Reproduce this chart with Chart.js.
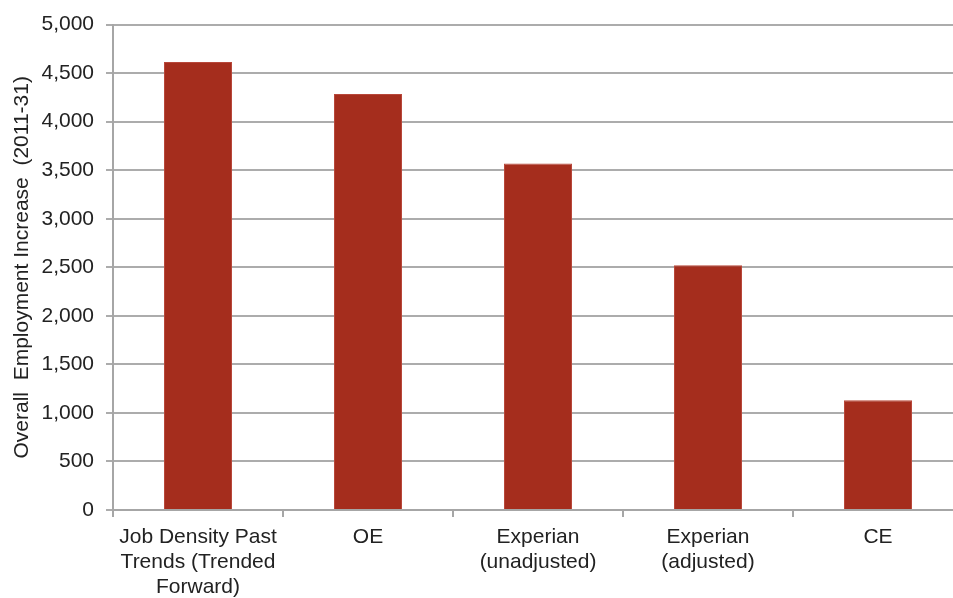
<!DOCTYPE html>
<html>
<head>
<meta charset="utf-8">
<script src="https://cdn.jsdelivr.net/npm/chart.js@4.4.1/dist/chart.umd.min.js"></script>
<style>
  body { margin: 0; overflow: hidden; background: #fff; }
  #wrap { width: 970px; height: 598px; }
</style>
</head>
<body>
<div id="wrap"><canvas id="grafica"></canvas></div>
<script>
const categorias = [
  ["Job Density Past", "Trends (Trended", "Forward)"],
  "OE",
  ["Experian", "(unadjusted)"],
  ["Experian", "(adjusted)"],
  "CE"
];
const empleo = [4615, 4285, 3568, 2522, 1130];
const tituloY = "Overall  Employment Increase  (2011-31)";

const familia = "Liberation Sans, Arial, sans-serif";

new Chart(document.getElementById("grafica"), {
  type: "bar",
  data: {
    labels: categorias,
    datasets: [{
      data: empleo,
      backgroundColor: "#a52d1d",
      borderColor: "#b8473a",
      borderWidth: 1,
      categoryPercentage: 1,
      barPercentage: 0.4
    }]
  },
  options: {
    responsive: true,
    maintainAspectRatio: false,
    animation: false,
    layout: { padding: { top: 22, right: 7, left: 0, bottom: 0 } },
    plugins: {
      legend: { display: false },
      tooltip: { enabled: false }
    },
    scales: {
      x: {
        grid: { drawOnChartArea: false, color: "#a6a6a6", lineWidth: 2, tickLength: 7 },
        border: { color: "#a6a6a6", width: 2 },
        ticks: { color: "#222", font: { family: familia, size: 21, lineHeight: 1.18 }, maxRotation: 0, autoSkip: false, padding: 8 },
        afterFit: function(scale) { scale.height = 88; }
      },
      y: {
        min: 0,
        max: 5000,
        ticks: {
          stepSize: 500,
          color: "#222",
          font: { family: familia, size: 21 },
          padding: 12,
          callback: function(v) { return v.toLocaleString("en-US"); }
        },
        grid: { color: "#acacac", lineWidth: 2, tickLength: 7 },
        border: { color: "#a6a6a6", width: 2 },
        title: { display: true, text: tituloY, color: "#222", font: { family: familia, size: 21 }, padding: { top: 10, bottom: 0 } },
        afterFit: function(scale) { scale.width = 113; }
      }
    }
  }
});
</script>
</body>
</html>
